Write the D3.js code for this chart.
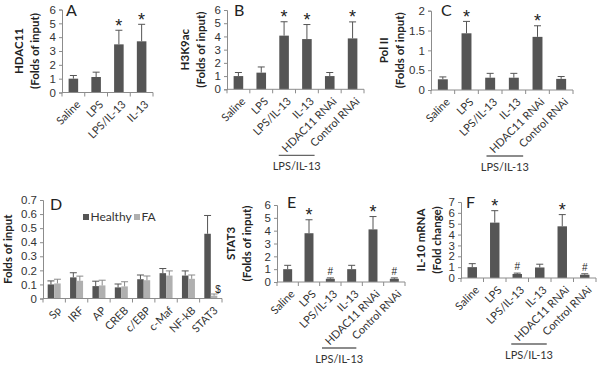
<!DOCTYPE html>
<html>
<head>
<meta charset="utf-8">
<script src="https://cdn.jsdelivr.net/npm/d3@7"></script>
<style>
body { margin: 0; background: #fff; }
svg { font-family: Lato, "Liberation Sans", sans-serif; }
.tick text { fill: #333; font-size: 11px; }
.ytitle { font-weight: bold; font-size: 11.5px; fill: #222; }
.letter { font-size: 16px; fill: #222; }
.mark { font-family: "Liberation Sans", sans-serif; fill: #222; }
</style>
</head>
<body>
<svg id="fig" width="600" height="370"></svg>
<script>
// categories
const catsA = ["Saline", "LPS", "LPS/IL-13", "IL-13"];
const catsB = ["Saline", "LPS", "LPS/IL-13", "IL-13", "HDAC11 RNAi", "Control RNAi"];
const catsD = ["Sp", "IRF", "AP", "CREB", "c/EBP", "c-Maf", "NF-kB", "STAT3"];
const seriesD = ["Healthy", "FA"];

// A: HDAC11
const valsA = [1.0, 1.12, 3.48, 3.7];
const errA = [0.23, 0.35, 1.02, 1.23];
const markA = ["", "", "*", "*"];
// B: H3K9ac
const valsB = [1.0, 1.26, 4.06, 3.8, 1.0, 3.85];
const errB = [0.27, 0.43, 1.05, 1.1, 0.27, 1.25];
const markB = ["", "", "*", "*", "", "*"];
// C: Pol II
const valsC = [0.27, 1.43, 0.31, 0.31, 1.34, 0.28];
const errC = [0.06, 0.3, 0.11, 0.11, 0.28, 0.06];
const markC = ["", "*", "", "", "*", ""];
// D: healthy vs FA
const healthyD = [0.10, 0.15, 0.088, 0.079, 0.137, 0.18, 0.163, 0.46];
const healthyErr = [0.025, 0.033, 0.035, 0.024, 0.03, 0.033, 0.033, 0.13];
const faD = [0.107, 0.126, 0.093, 0.086, 0.13, 0.163, 0.14, 0.02];
const faErr = [0.03, 0.033, 0.037, 0.033, 0.03, 0.033, 0.027, 0.012];
const markFA = ["", "", "", "", "", "", "", "$"];
// E: STAT3
const valsE = [1.0, 3.8, 0.25, 1.0, 4.1, 0.25];
const errE = [0.3, 1.05, 0.07, 0.3, 1.0, 0.07];
const markE = ["", "*", "#", "", "*", "#"];
// F: IL-10 mRNA
const valsF = [1.0, 5.1, 0.37, 0.97, 4.76, 0.3];
const errF = [0.32, 1.1, 0.08, 0.3, 1.08, 0.09];
const markF = ["", "*", "#", "", "*", "#"];

const ticks6 = [0, 1, 2, 3, 4, 5, 6];
const ticks7 = [0, 1, 2, 3, 4, 5, 6, 7];
const ticksC = [0, 0.5, 1, 1.5, 2];
const ticksD = [0, 0.1, 0.2, 0.3, 0.4, 0.5, 0.6, 0.7];

const dark = "#555555", light = "#b0b0b0", axisCol = "#8c8c8c";
const svg = d3.select("#fig");

function axes(g, x, y, ticks, fmt) {
	let ya = g.append("g").attr("transform", "translate(" + x.range()[0] + ",0)")
		.call(d3.axisLeft(y).tickValues(ticks).tickSize(3).tickPadding(3).tickFormat(fmt || d3.format("")));
	ya.select(".domain").attr("stroke", axisCol);
	ya.selectAll(".tick line").attr("stroke", axisCol);
	ya.selectAll(".tick text").style("font-size", "11.5px");

	// x axis: ticks sit between the categories
	let y0 = y.range()[0];
	let xa = g.append("g");
	xa.append("line").attr("x1", x.range()[0]).attr("x2", x.range()[1])
		.attr("y1", y0).attr("y2", y0).attr("stroke", axisCol);
	let edges = x.domain().map(d => x(d)).concat([x.range()[1]]);
	xa.selectAll(".xt").data(edges).enter().append("line")
		.attr("x1", d => d).attr("x2", d => d).attr("y1", y0).attr("y2", y0 + 4)
		.attr("stroke", axisCol);
	xa.selectAll(".xl").data(x.domain()).enter().append("text")
		.attr("transform", d => "translate(" + (x(d) + x.bandwidth() / 2 + 5) + "," + (y0 + 10) + ") rotate(-45)")
		.attr("text-anchor", "end").attr("dy", "0.35em")
		.style("font-size", "11px").attr("fill", "#333")
		.text(d => d);
}

function yTitle(g, lines, xs, y) {
	let cy = (y.range()[0] + y.range()[1]) / 2;
	lines.forEach((t, i) => {
		g.append("text").attr("class", "ytitle")
			.attr("transform", "translate(" + xs[i] + "," + cy + ") rotate(-90)")
			.attr("text-anchor", "middle").attr("dy", "0.35em").text(t);
	});
}

function errBars(g, cx, vals, errs, y, col) {
	vals.forEach((v, i) => {
		let top = y(v + errs[i]);
		g.append("line").attr("x1", cx[i]).attr("x2", cx[i]).attr("y1", y(v)).attr("y2", top).attr("stroke", col);
		g.append("line").attr("x1", cx[i] - 3.5).attr("x2", cx[i] + 3.5).attr("y1", top).attr("y2", top).attr("stroke", col);
	});
}

function marks(g, cx, vals, errs, y, m) {
	m.forEach((t, i) => {
		if (t == "") return;
		let top = y(vals[i] + errs[i]);
		let txt = g.append("text").attr("class", "mark").attr("text-anchor", "middle").text(t);
		if (t == "*") txt.attr("x", cx[i]).attr("y", top + 1.5).style("font-size", "18px");
		else if (t == "#") txt.attr("x", cx[i]).attr("y", top - 3).style("font-size", "10px");
		else txt.attr("x", cx[i] + 4).attr("y", top - 1).style("font-size", "10px");
	});
}

function groupLabel(g, x, y) {
	let y0 = y.range()[0];
	let x1 = x("HDAC11 RNAi") + x.bandwidth() / 2 - 51;
	let x2 = x("Control RNAi") + x.bandwidth() / 2 - 38;
	g.append("line").attr("x1", x1).attr("x2", x2).attr("y1", y0 + 66).attr("y2", y0 + 66)
		.attr("stroke", "#666").attr("stroke-width", 1.3);
	g.append("text").attr("x", (x1 + x2) / 2).attr("y", y0 + 81).attr("text-anchor", "middle")
		.attr("fill", "#333").style("font-size", "11px").style("font-weight", "normal").text("LPS/IL-13");
}

function simplePanel(p) {
	let g = svg.append("g");
	let x = d3.scaleBand().domain(p.cats).range([p.x0, p.x1]);
	let y = d3.scaleLinear().domain([0, p.max]).range([p.y0, p.y1]);
	let bw = x.bandwidth() * 0.42;
	let cx = p.cats.map(d => x(d) + x.bandwidth() / 2);

	g.selectAll(".bar").data(p.vals).enter().append("rect")
		.attr("x", (d, i) => cx[i] - bw / 2).attr("width", bw)
		.attr("y", d => y(d)).attr("height", d => y(0) - y(d))
		.attr("fill", dark);
	errBars(g, cx, p.vals, p.errs, y, dark);
	marks(g, cx, p.vals, p.errs, y, p.marks);
	axes(g, x, y, p.ticks, p.fmt);
	yTitle(g, p.title, p.tx, y);
	g.append("text").attr("class", "letter").attr("x", p.lx).attr("y", p.ly).text(p.letter);
	if (p.group) groupLabel(g, x, y);
}

simplePanel({cats: catsA, vals: valsA, errs: errA, marks: markA, x0: 62, x1: 153, y0: 92.5, y1: 9.5, max: 6,
	ticks: ticks6, title: ["HDAC11", "(Folds of input)"], tx: [19, 35], letter: "A", lx: 66, ly: 16});
simplePanel({cats: catsB, vals: valsB, errs: errB, marks: markB, x0: 227, x1: 364, y0: 89.3, y1: 10, max: 6,
	ticks: ticks6, title: ["H3K9ac", "(Folds of input)"], tx: [185, 201], letter: "B", lx: 234, ly: 16, group: true});
simplePanel({cats: catsB, vals: valsC, errs: errC, marks: markC, x0: 431, x1: 573, y0: 90, y1: 10.7, max: 2,
	ticks: ticksC, title: ["Pol II", "(Folds of input)"], tx: [384, 400], letter: "C", lx: 441, ly: 16, group: true});
simplePanel({cats: catsB, vals: valsE, errs: errE, marks: markE, x0: 277, x1: 405, y0: 282, y1: 205, max: 6,
	ticks: ticks6, title: ["STAT3", "(Folds of input)"], tx: [231, 247], letter: "E", lx: 287, ly: 208, group: true});
simplePanel({cats: catsB, vals: valsF, errs: errF, marks: markF, x0: 461, x1: 596, y0: 278, y1: 202, max: 7,
	ticks: ticks7, title: ["IL-10 mRNA", "(Fold change)"], tx: [421, 437], letter: "F", lx: 466, ly: 208, group: true});

// D: grouped bars
(function() {
	let g = svg.append("g");
	let x = d3.scaleBand().domain(catsD).range([43, 222]);
	let xs = d3.scaleBand().domain(seriesD).range([0, 13]);
	let y = d3.scaleLinear().domain([0, 0.7]).range([298.5, 200]);
	let off = (x.bandwidth() - 13) / 2;
	let cxH = catsD.map(d => x(d) + off + xs("Healthy") + xs.bandwidth() / 2);
	let cxF = catsD.map(d => x(d) + off + xs("FA") + xs.bandwidth() / 2);

	g.selectAll(".bh").data(healthyD).enter().append("rect")
		.attr("x", (d, i) => x(catsD[i]) + off + xs("Healthy")).attr("width", xs.bandwidth())
		.attr("y", d => y(d)).attr("height", d => y(0) - y(d)).attr("fill", dark);
	g.selectAll(".bf").data(faD).enter().append("rect")
		.attr("x", (d, i) => x(catsD[i]) + off + xs("FA")).attr("width", xs.bandwidth())
		.attr("y", d => y(d)).attr("height", d => y(0) - y(d)).attr("fill", light);
	errBars(g, cxH, healthyD, healthyErr, y, dark);
	errBars(g, cxF, faD, faErr, y, "#8a8a8a");
	marks(g, cxF, faD, faErr, y, markFA);
	axes(g, x, y, ticksD, d => d == 0 ? "0" : d3.format(".1f")(d));
	yTitle(g, ["Folds of input"], [8], y);
	g.append("text").attr("class", "letter").attr("x", 50).attr("y", 210).text("D");

	// legend
	let lg = g.append("g").attr("transform", "translate(83,214)");
	let items = lg.selectAll("g").data(seriesD).enter().append("g")
		.attr("transform", (d, i) => "translate(" + (i * 51) + ",0)");
	items.append("rect").attr("width", 6).attr("height", 6).attr("fill", (d, i) => i == 0 ? dark : light);
	items.append("text").attr("x", 7.5).attr("y", 6.5).style("font-size", "12px").attr("fill", "#333").text(d => d);
})();
</script>
</body>
</html>
